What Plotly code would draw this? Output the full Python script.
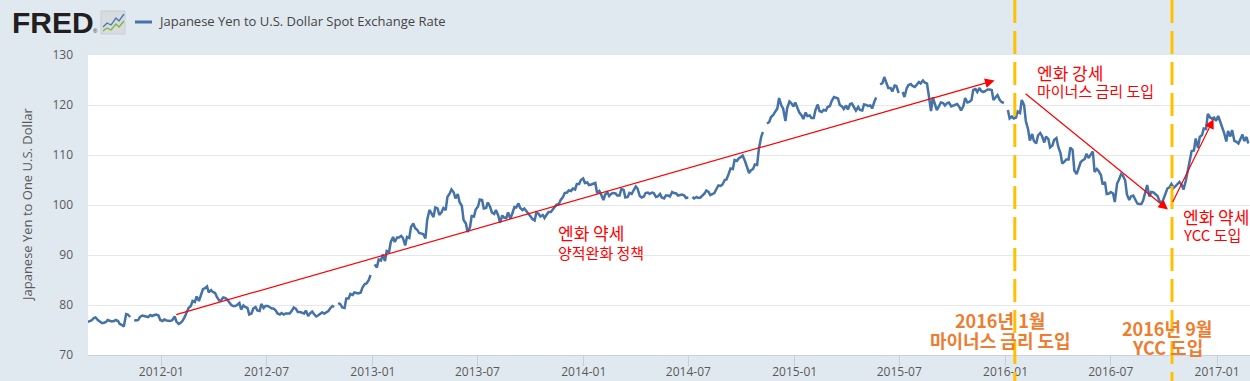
import pandas as pd
import plotly.graph_objects as go

# ---------------- data ----------------
series_name = "Japanese Yen to U.S. Dollar Spot Exchange Rate"
y_title = "Japanese Yen to One U.S. Dollar"
start_date = "2011-08-26"
end_date = "2017-02-24"

# twice-weekly readings (Tue / Fri), None = no observation (holiday)
v2011 = [76.6,
         76.7, 76.9, 77.4, 77.5, 77.0, 76.8, 76.4, 76.4, 76.6, 77.0,
         76.8, 76.7, 76.8, 77.0, 76.8, 76.2, 76.0, 75.7,
         78.2, 78.1, 77.6, None, 77.0, 76.9, 77.0, 77.6, 77.9, 77.8,
         77.8, 77.6, 78.0, 77.8, 78.0, 78.1, 77.9, 77.0]
v2012 = [76.8, 77.1, 76.9, 76.9, 76.8, 77.0, 77.7, 76.7,
         76.2, 76.4, 76.9, 77.5, 78.4, 79.4, 79.8, 80.8,
         80.6, 81.7, 80.8, 82.0, 83.2, 83.3, 83.7, 82.5, 83.0, 82.6,
         82.4, 81.6, 80.9, 80.9, 81.5, 81.4, 81.1, 80.6,
         80.0, 79.8, 79.8, 80.0, 80.4, 79.1, 79.9, 79.6, 79.4, 78.1,
         78.3, 79.3, 79.6, 78.9, 78.8, 80.2, 79.4, 79.8,
         79.8, 79.6, 79.3, 79.3, 78.9, 78.3, 78.1, 78.4,
         78.1, 78.3, 78.3, 78.3, 78.9, 79.5, 79.2, 78.6, 78.6, 78.4,
         78.3, 78.9, 77.8, 78.3, 78.7, 78.2, 77.7, 77.9,
         78.2, 78.5, 78.3, 78.5, 78.8, 79.3, 79.8, 79.6,
         None, 80.4, 80.1, 79.5, 79.4, 81.3, 81.3, 82.2, 82.0, 82.5,
         82.3, 82.3, 82.5, 83.5, 84.2, 84.3, 85.0, 86.0]
v2013 = [None, 88.1, 87.5, 89.1, 88.9, 90.1, 88.8, 90.8, 90.6, 92.6,
         93.6, 92.6, 93.5, 93.5, 93.8, 93.4, 91.9, 93.6,
         93.4, 95.6, 96.3, 95.4, 95.0, 94.4, 94.2, 94.2,
         93.3, 97.0, 99.0, 98.4, 97.6, 99.5, 99.3, 98.0, 98.6, 99.4,
         99.0, 101.6, 102.3, 103.1, 102.5, 101.3, 102.2, 100.6,
         99.8, 97.0, 96.3, 94.6, 95.5, 97.8, 97.7, 99.1,
         99.7, 101.1, 101.0, 99.3, 99.4, 100.5, 99.6, 98.5, 98.2, 99.0,
         97.9, 96.5, 97.9, 97.5, 97.4, 98.5, 97.3, 98.2,
         99.6, 99.5, 100.3, 99.4, 99.0, 99.3, 98.6, 98.3,
         97.7, 97.2, 96.9, 98.5, 98.2, 97.7, 98.0, 97.4, 98.1, 98.6,
         98.6, 99.0, 99.6, 100.1, 100.2, 101.0, 101.6, 102.4,
         102.5, 102.9, 102.8, 103.3, 103.1, 104.2, 104.2, 105.0]
v2014 = [105.3, 104.4, 104.5, 104.0, 104.1, 104.2, 104.4, 102.4, 102.8, 102.1,
         101.0, 102.1, 102.5, 101.8, 102.3, 102.4, 102.3, 101.9,
         101.9, 103.2, 103.0, 101.5, 101.6, 102.4, 102.2, 102.9,
         103.7, 103.3, 101.8, 101.5, 101.7, 102.4, 102.5, 102.2, 102.5, 102.4,
         101.6, 101.7, 102.2, 101.5, 101.3, 101.9, 101.9, 101.7,
         102.6, 102.4, 102.3, 101.9, 102.0, 102.1, 101.9, 101.4,
         101.5, None, 101.6, 101.3, 101.6, 101.4, 101.5, 101.8, 102.3, 102.9,
         102.6, 102.0, 102.3, 102.4, 103.3, 103.9, 103.8, 104.1,
         105.0, 105.1, 106.3, 107.3, 107.2, 109.0, 108.8, 109.3, 109.6, 109.9,
         108.8, 107.6, 106.4, 106.9, 107.2, 108.1, 108.0, 111.2,
         113.6, 114.6, None, 116.3, 116.6, 117.6, 118.0, 118.6,
         119.3, 121.4, 119.9, 119.3, 116.8, 119.4, 120.7, 120.4]
v2015 = [119.7, 120.5, 119.1, 118.5, 117.9, 117.2, 118.5, 117.8, 117.9, 117.4,
         117.4, 119.0, 120.1, 118.8, 118.6, 119.0, 118.9, 119.6,
         119.8, 120.8, 121.6, 121.4, 121.3, 120.0, 119.7, 119.2, 119.9, 119.1,
         120.2, 120.3, 119.5, 118.9, 119.6, 119.0, 118.9, 120.1,
         120.0, 119.8, 119.9, 119.3, 120.7, 121.5, None, 124.1,
         124.4, 125.6, 124.4, 123.4, 123.4, 122.7, 123.9, 123.8, 122.4, None,
         122.6, 121.6, 123.4, 124.0, 124.2, 123.8, 123.6, 124.0,
         124.6, 124.3, 124.9, 124.5, 124.3, 122.0, 118.8, 121.5,
         119.8, 119.0, 119.8, 120.5, 120.4, 119.9, 120.4, 120.5, 119.7, 119.9,
         120.1, 120.2, 119.6, 118.9, 119.8, 121.4, 120.5, 120.6,
         121.0, 123.0, 123.2, 122.6, 123.4, 122.8, 122.6, 122.8,
         123.1, 123.1, 123.0, 121.0, 121.5, 122.0, 121.0, 120.6]
v2016 = [120.4, None, 119.0, 117.3, 117.7, 117.3, 117.5, 118.7, 118.4, 121.0,
         120.0, 116.8, 115.1, 112.9, 114.2, 112.8, 112.3, 113.9,
         114.4, 113.8, 112.5, 113.7, 113.2, 111.5, 111.9, 113.0, 113.4, 111.7,
         110.4, 108.3, 108.7, 109.1, 109.1, 111.5, 111.0, 106.9,
         106.2, 107.3, 108.6, 108.9, 109.2, 110.2, 109.4, 110.0, 110.7, 106.6,
         107.2, 106.8, 106.0, 104.1, 104.6, 102.2, 102.3, 102.6,
         102.3, 100.6, 104.3, 105.0, 106.2, 105.9, 104.9, 102.1,
         101.0, 101.7, 101.9, 101.2, 100.3, 100.2, 100.2, 100.9, 102.8, 104.0,
         101.7, 102.6, 102.5, 102.2, 101.8, 100.9, 100.4, 101.1,
         102.5, 103.3, 103.6, 104.2, 103.4, 103.8, 104.4, 104.6,
         104.0, 103.1, 104.9, 106.6, 108.9, 110.8, 110.9, 113.3, 111.4, 113.6,
         114.0, 115.3, 115.2, 118.2, 117.5, 117.3, 117.5, 116.8]
v2017 = [117.8, 116.9, 115.8, 114.5, 112.7, 114.8, 113.7, 115.0,
         112.8, 112.7, 112.3, 113.2, 114.1, 112.8, 113.6, 112.3]

values = v2011 + v2012 + v2013 + v2014 + v2015 + v2016 + v2017

# policy events (dashed markers)
event_dates = ["2016-01-17", "2016-10-15"]

# trend arrows: tail (date, value) -> head (date, value)
arrow_tail_dates = ["2012-01-24", "2016-02-02", "2016-10-15"]
arrow_tail_vals = [78.0, 122.5, 100.3]
arrow_head_dates = ["2015-12-13", "2016-10-08", "2016-12-26"]
arrow_head_vals = [124.9, 99.1, 117.2]

x_range = ["2011-08-27", "2017-02-27"]
y_range = [70, 130]

# ---------------- figure ----------------
W, H = 1250, 381
L, R, T, B = 88, 0, 55, 26
PW, PH = W - L - R, H - T - B


def px(x):
    return (x - L) / PW


def py(y):
    return (H - B - y) / PH


fri = pd.date_range(start_date, end_date, freq="W-FRI")
tue = pd.date_range(start_date, end_date, freq="W-TUE")
dates = fri.union(tue)
n = min(len(dates), len(values))

LINE_BLUE = "#4572a7"
GREY_TXT = "#595959"
BG = "#e1e9f0"
RED = "#ff0000"
ORANGE_TXT = "#ed7d31"
DASH_GOLD = "#ffc000"

fig = go.Figure()
fig.add_trace(go.Scatter(
    x=dates[:n], y=values[:n], mode="lines",
    line=dict(color=LINE_BLUE, width=2.5),
    connectgaps=False, name=series_name, showlegend=False,
    hoverinfo="x+y",
))

shapes = []
for d in event_dates:
    shapes.append(dict(type="line", xref="x", yref="paper",
                       x0=d, x1=d, y0=py(0), y1=py(H),
                       line=dict(color=DASH_GOLD, width=3, dash="23px,8px"),
                       layer="above"))

# legend sample line
shapes.append(dict(type="line", xref="paper", yref="paper",
                   x0=px(135), x1=px(152), y0=py(22), y1=py(22),
                   line=dict(color=LINE_BLUE, width=3)))
# FRED icon
shapes.append(dict(type="rect", xref="paper", yref="paper",
                   x0=px(101), x1=px(125), y0=py(34), y1=py(11),
                   fillcolor="#d9dcdf", line=dict(color="#c9cdd1", width=1)))


def poly(pts):
    return "M " + " L ".join(f"{px(a)},{py(b)}" for a, b in pts)


shapes.append(dict(type="path", xref="paper", yref="paper",
                   path=poly([(103, 27), (107, 23), (111, 25), (116, 18), (119, 21), (124, 14)]),
                   line=dict(color="#4a78b5", width=1.3)))
shapes.append(dict(type="path", xref="paper", yref="paper",
                   path=poly([(103, 31), (107, 28), (111, 30), (116, 24), (119, 27), (124, 21)]),
                   line=dict(color="#7cb342", width=1.3)))

annotations = []
# trend arrows
for td, tv, hd, hv in zip(arrow_tail_dates, arrow_tail_vals, arrow_head_dates, arrow_head_vals):
    annotations.append(dict(x=hd, y=hv, ax=td, ay=tv, xref="x", yref="y",
                            axref="x", ayref="y", text="", showarrow=True,
                            arrowhead=2, arrowsize=1.6, arrowwidth=1.2,
                            arrowcolor=RED, standoff=0))

KR = "Noto Sans CJK KR"
OS = "Open Sans"


def txt(x, y, s, size, color, anchor="left", weight="normal", family=KR):
    annotations.append(dict(x=px(x), y=py(y), xref="paper", yref="paper",
                            text=s, showarrow=False, xanchor=anchor, yanchor="middle",
                            font=dict(family=family, size=size, color=color, weight=weight)))


txt(556, 233, "엔화 약세", 17, RED)
txt(556, 252, "양적완화 정책", 15, RED)
txt(1035, 72, "엔화 강세", 17, RED)
txt(1035, 90, "마이너스 금리 도입", 15, RED)
txt(1181, 216, "엔화 약세", 17, RED)
txt(1181, 234, "YCC 도입", 15, RED)

txt(1000, 320, "2016년 1월", 18, ORANGE_TXT, anchor="center", weight="bold")
txt(1000, 340, "마이너스 금리 도입", 18, ORANGE_TXT, anchor="center", weight="bold")
txt(1167, 328, "2016년 9월", 18, ORANGE_TXT, anchor="center", weight="bold")
txt(1167, 347, "YCC 도입", 18, ORANGE_TXT, anchor="center", weight="bold")

# header
txt(10, 23, "FRED", 30, "#231f20", weight="bold", family="Liberation Sans")
txt(91, 31, "®", 6, "#231f20", family="Liberation Sans")
txt(156, 21, series_name, 13, "#444444", family=OS)

# y axis title
annotations.append(dict(x=px(27), y=0.5, xref="paper", yref="paper",
                        text=y_title, showarrow=False, textangle=-90,
                        xanchor="center", yanchor="middle",
                        font=dict(family=OS, size=13, color=GREY_TXT)))

fig.update_layout(
    width=W, height=H,
    margin=dict(l=L, r=R, t=T, b=B, pad=0),
    paper_bgcolor=BG, plot_bgcolor="white",
    showlegend=False,
    shapes=shapes, annotations=annotations,
    font=dict(family=OS, color=GREY_TXT),
    xaxis=dict(
        type="date", range=x_range, automargin=False,
        tick0="2012-01-01", dtick="M6", tickformat="%Y-%m",
        ticks="outside", ticklen=10, tickwidth=1, tickcolor="#c3d0de",
        ticklabelstandoff=-4,
        showgrid=False, showline=True, linecolor="#c8d2de", linewidth=1,
        tickfont=dict(family=OS, size=12, color=GREY_TXT),
        zeroline=False,
    ),
    yaxis=dict(
        range=y_range, dtick=10, automargin=False,
        showgrid=True, gridcolor="#e4e7eb", gridwidth=1,
        showline=False, zeroline=False, ticks="",
        ticklabelstandoff=14,
        tickfont=dict(family=OS, size=12, color=GREY_TXT),
    ),
)

fig.write_html("out.html",
               config={"displayModeBar": False},
               post_script="document.body.style.margin='0';document.body.style.overflow='hidden';")
